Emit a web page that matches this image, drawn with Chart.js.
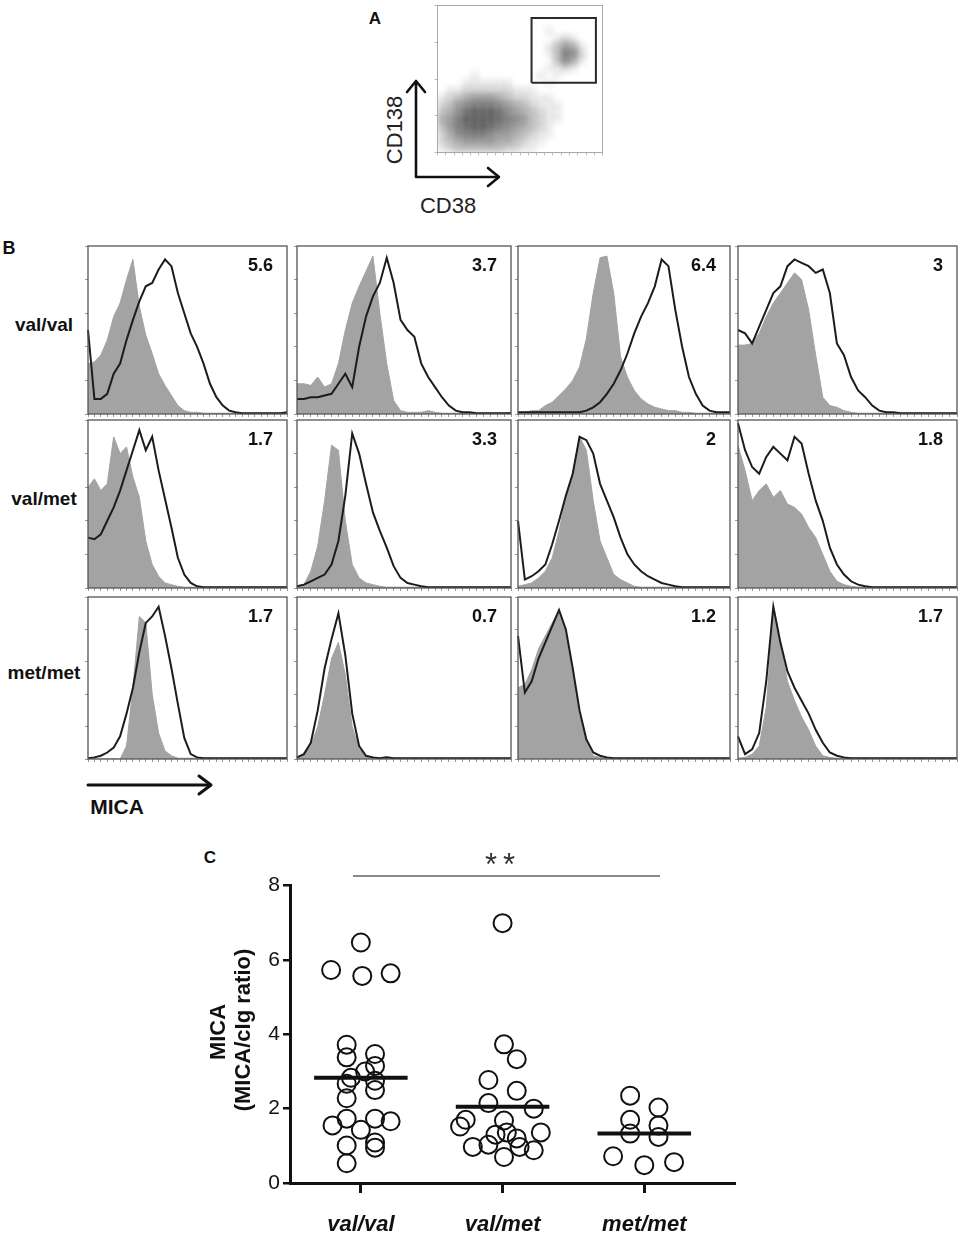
<!DOCTYPE html>
<html>
<head>
<meta charset="utf-8">
<script src="https://cdn.jsdelivr.net/npm/chart.js@4.4.1/dist/chart.umd.min.js"></script>
<style>
body { margin: 0; background: #fff; }
#page { position: relative; width: 965px; height: 1239px; overflow: hidden; font-family: 'Liberation Sans', Arial, sans-serif; color: #111; }
#page canvas { position: absolute; }
.lbl { position: absolute; white-space: nowrap; line-height: 1; }
#arrows { position: absolute; left: 0; top: 0; }
</style>
</head>
<body>
<div id="page">
<svg id="arrows" width="965" height="1239">
  <g stroke="#111" stroke-width="2.6" fill="none" stroke-linecap="round" stroke-linejoin="round">
    <polyline points="416,82 416,177 498,177"/>
    <polyline points="407,92 416,81 425,92"/>
    <polyline points="488,168 499,177 488,186"/>
    <line x1="88" y1="785" x2="210" y2="785" stroke-width="3"/>
    <polyline points="199,776 211,785 199,794" stroke-width="3"/>
  </g>
  <line x1="353" y1="876" x2="660" y2="876" stroke="#8a8a8a" stroke-width="2"/>
</svg>
</div>
<script>
Chart.defaults.font.family = "'Liberation Sans', Arial, sans-serif";
Chart.defaults.animation = false;

// ---- panel A: CD38 x CD138 density, rows top to bottom, level 0-9 ----
const densityRows = [
    "00000000000000000000",
    "00000000000000000000",
    "00000000000000000000",
    "00000000000001000000",
    "00000000000000121000",
    "00000000000001354100",
    "00000000000001376200",
    "00000000000000364100",
    "00000000000001121000",
    "00001000000010100000",
    "00011111100001000000",
    "01122222211100000000",
    "12345554322111000000",
    "23567776543211100000",
    "34689998654321100000",
    "45799998765321100000",
    "35789987654321000000",
    "24677765543211000000",
    "23455554432110000000",
    "12333333221100000000"
];
const gateX = [570, 960];
const gateY = [475, 915];

// ---- panel B: histograms, gray = control, black = anti-MICA (% of max) ----
const bins = [0,1,2,3,4,5,6,7,8,9,10,11,12,13,14,15,16,17,18,19,20,21,22,23,24,25,26,27,28,29,30,31];
const rowNames = ['val/val', 'val/met', 'met/met'];
const ratioLabels = ['5.6', '3.7', '6.4', '3', '1.7', '3.3', '2', '1.8', '1.7', '0.7', '1.2', '1.7'];

const ctrlValVal = [
    [30,31,35,44,58,66,80,92,64,47,36,24,17,11,5,2,1,1,0.5,0.5,0.5,0.5,0.5,0.5,0.5,0.5,0.5,0.5,0.5,0.5,0.5,1],
    [18,18,17,22,16,18,30,50,66,76,85,94,60,30,8,2,1,1,1,2,1,0.5,0.5,0.5,0.5,0.5,0.5,0.5,0.5,0.5,0.5,1],
    [1,1,2,2,5,7,11,15,20,28,45,72,93,94,72,34,22,14,9,6,4,3,2,2,1,1,0.5,0.5,0.5,0.5,0.5,0.5],
    [41,41,42,48,58,66,72,78,84,80,62,35,10,5,4,2,1,0.5,0.5,0.5,0.5,0.5,0.5,0.5,0.5,0.5,0.5,0.5,0.5,0.5,0.5,0.5]
];
const micaValVal = [
    [50,9,9,12,24,30,44,56,67,76,78,86,92,88,72,60,48,40,30,18,10,5,2,1,0.5,0.5,0.5,0.5,0.5,0.5,0.5,1],
    [9,9,10,10,11,12,18,24,16,40,58,70,78,93,78,56,50,46,30,22,16,10,5,2,1,1,0.5,0.5,0.5,0.5,0.5,0.5],
    [1,1,1,1,1,1,1,1,1,1,2,4,7,12,18,26,36,48,58,66,76,92,88,62,40,22,12,5,2,1,1,1],
    [50,48,42,52,62,72,76,88,92,90,88,84,86,72,42,35,22,14,10,5,2,1,1,0.5,0.5,0.5,0.5,0.5,0.5,0.5,0.5,0.5]
];
const ctrlValMet = [
    [60,65,58,62,90,80,84,66,54,28,14,7,3,2,1,0.5,0.5,0.5,0.5,0.5,0.5,0.5,0.5,0.5,0.5,0.5,0.5,0.5,0.5,0.5,0.5,0.5],
    [1,2,10,25,52,85,82,40,14,6,3,2,1,0.5,0.5,0.5,0.5,0.5,0.5,0.5,0.5,0.5,0.5,0.5,0.5,0.5,0.5,0.5,0.5,0.5,0.5,0.5],
    [1,2,3,6,10,18,34,54,68,90,82,52,28,18,8,5,3,1,0.5,0.5,0.5,0.5,0.5,0.5,0.5,0.5,0.5,0.5,0.5,0.5,0.5,0.5],
    [85,70,52,58,62,54,58,50,48,44,36,30,20,10,4,2,1,0.5,0.5,0.5,0.5,0.5,0.5,0.5,0.5,0.5,0.5,0.5,0.5,0.5,0.5,0.5]
];
const micaValMet = [
    [30,29,32,40,48,58,70,82,94,82,90,70,53,36,18,8,3,1,0.5,0.5,0.5,0.5,0.5,0.5,0.5,0.5,0.5,0.5,0.5,0.5,0.5,0.5],
    [1,2,4,6,8,14,28,55,92,80,62,45,34,24,13,6,3,2,1,0.5,0.5,0.5,0.5,0.5,0.5,0.5,0.5,0.5,0.5,0.5,0.5,0.5],
    [40,5,7,10,14,26,40,55,68,90,88,80,62,52,42,30,20,14,10,7,5,3,2,1,0.5,0.5,0.5,0.5,0.5,0.5,0.5,0.5],
    [98,82,72,68,78,84,80,76,90,86,68,52,40,24,14,8,4,2,1,0.5,0.5,0.5,0.5,0.5,0.5,0.5,0.5,0.5,0.5,0.5,0.5,0.5]
];
const ctrlMetMet = [
    [0,0,0,0,0,0,8,44,88,84,40,16,5,2,0.5,0.5,0.5,0.5,0.5,0.5,0.5,0.5,0.5,0.5,0.5,0.5,0.5,0.5,0.5,0.5,0.5,0.5],
    [1,3,8,20,40,62,72,52,20,6,2,1,0.5,0.5,0.5,0.5,0.5,0.5,0.5,0.5,0.5,0.5,0.5,0.5,0.5,0.5,0.5,0.5,0.5,0.5,0.5,0.5],
    [44,46,55,68,76,84,92,78,52,28,10,2,1,0.5,0.5,0.5,0.5,0.5,0.5,0.5,0.5,0.5,0.5,0.5,0.5,0.5,0.5,0.5,0.5,0.5,0.5,0.5],
    [0.5,1,3,8,32,90,72,48,36,26,18,8,2,1,0.5,0.5,0.5,0.5,0.5,0.5,0.5,0.5,0.5,0.5,0.5,0.5,0.5,0.5,0.5,0.5,0.5,0.5]
];
const micaMetMet = [
    [0.5,1,2,4,7,14,28,44,66,84,88,94,76,56,34,13,3,1,0.5,0.5,0.5,0.5,0.5,0.5,0.5,0.5,0.5,0.5,0.5,0.5,0.5,0.5],
    [1,3,10,30,56,74,90,64,28,8,2,1,0.5,1,0.5,0.5,0.5,0.5,0.5,0.5,0.5,0.5,0.5,0.5,0.5,0.5,0.5,0.5,0.5,0.5,0.5,0.5],
    [76,41,48,62,72,82,92,80,56,30,12,4,2,1,0.5,0.5,0.5,0.5,0.5,0.5,0.5,0.5,0.5,0.5,0.5,0.5,0.5,0.5,0.5,0.5,0.5,0.5],
    [14,3,6,16,48,94,72,54,44,36,28,18,10,4,2,1,0.5,0.5,0.5,0.5,0.5,0.5,0.5,0.5,0.5,0.5,0.5,0.5,0.5,0.5,0.5,0.5]
];

// ---- panel C: MICA/cIg ratio per patient ----
const genotypes = ['val/val', 'val/met', 'met/met'];
const valValMica = [5.73, 6.47, 5.57, 5.64, 3.72, 3.38, 3.47, 3.15, 3.0, 2.83, 2.67, 2.75, 2.5, 2.28, 1.55, 1.73, 1.43, 1.73, 1.66, 1.01, 1.09, 0.95, 0.53];
const valValJitter = [-0.21, 0, 0.01, 0.21, -0.1, -0.1, 0.1, 0.1, 0.03, -0.07, -0.1, 0.1, 0.1, -0.1, -0.2, -0.1, 0, 0.1, 0.21, -0.1, 0.1, 0.1, -0.1];
const valMetMica = [6.99, 3.73, 3.33, 2.77, 2.48, 2.15, 2.0, 1.70, 1.52, 1.68, 1.30, 1.36, 1.2, 1.36, 0.97, 1.03, 0.97, 0.88, 0.70];
const valMetJitter = [0, 0.01, 0.1, -0.1, 0.1, -0.1, 0.22, -0.26, -0.3, 0.01, -0.05, 0.03, 0.1, 0.27, -0.21, -0.1, 0.12, 0.22, 0.01];
const metMetMica = [2.35, 1.7, 1.33, 2.03, 1.55, 1.24, 0.72, 0.48, 0.56];
const metMetJitter = [-0.1, -0.1, -0.1, 0.1, 0.1, 0.1, -0.22, 0, 0.21];
const groupMeans = [2.83, 2.05, 1.33];

const page = document.getElementById('page');

function makeCanvas(left, top, width, height) {
    const cv = document.createElement('canvas');
    cv.width = width;
    cv.height = height;
    cv.style.left = left + 'px';
    cv.style.top = top + 'px';
    page.appendChild(cv);
    return cv;
}

// text centred on x,y
function addLabel(text, x, y, css, rotate) {
    const d = document.createElement('div');
    d.className = 'lbl';
    d.textContent = text;
    d.style.left = x + 'px';
    d.style.top = y + 'px';
    d.style.transform = 'translate(-50%, -50%)' + (rotate ? ' rotate(-90deg)' : '');
    Object.assign(d.style, css);
    page.appendChild(d);
    return d;
}

// draws the frame round the plot area
const boxPlugin = {
    id: 'box',
    afterDraw(chart, args, opts) {
        const a = chart.chartArea;
        const ctx = chart.ctx;
        ctx.save();
        ctx.strokeStyle = opts.color;
        ctx.lineWidth = opts.width;
        ctx.strokeRect(a.left, a.top, a.right - a.left, a.bottom - a.top);
        ctx.restore();
    }
};

const blurPlugin = {
    id: 'blur',
    beforeDatasetDraw(chart, args) {
        if (args.index === 0) {
            chart.ctx.save();
            chart.ctx.filter = 'blur(2.5px)';
        }
    },
    afterDatasetDraw(chart, args) {
        if (args.index === 0) chart.ctx.restore();
    }
};

function tickAxis(min, max, step, color, size, vertical) {
    return {
        type: 'linear', min: min, max: max,
        ticks: { display: false, stepSize: step },
        grid: { drawOnChartArea: false, tickLength: 3, color: color, tickColor: color },
        border: { display: false },
        afterFit: (s) => { if (vertical) s.width = size; else s.height = size; }
    };
}

// ---------- panel A ----------
function drawDotPlot() {
    const pts = [];
    const colors = [];
    densityRows.forEach((row, r) => {
        for (let c = 0; c < row.length; c++) {
            const level = parseInt(row[c]);
            if (level > 0) {
                pts.push({ x: c * 50 + 25, y: 975 - r * 50 });
                colors.push('rgba(35,35,35,' + (level * 0.068).toFixed(3) + ')');
            }
        }
    });
    const gate = [
        { x: gateX[0], y: gateY[0] }, { x: gateX[1], y: gateY[0] },
        { x: gateX[1], y: gateY[1] }, { x: gateX[0], y: gateY[1] }, { x: gateX[0], y: gateY[0] }
    ];
    const cv = makeCanvas(432, 0, 176, 158);
    new Chart(cv, {
        type: 'scatter',
        data: {
            datasets: [
                { data: pts, pointRadius: 5.5, borderWidth: 0, backgroundColor: colors },
                { data: gate, showLine: true, pointRadius: 0, borderColor: '#2a2a2a', borderWidth: 2 }
            ]
        },
        options: {
            responsive: false,
            layout: { padding: { top: 4, right: 1 } },
            plugins: { legend: { display: false }, tooltip: { enabled: false }, box: { color: '#aaa', width: 1 } },
            scales: {
                x: tickAxis(0, 1000, 50, '#bbb', 4, false),
                y: tickAxis(0, 1000, 250, '#bbb', 4, true)
            }
        },
        plugins: [blurPlugin, boxPlugin]
    });
}

// ---------- panel B ----------
const colLeft = [88, 297, 518, 738];
const colRight = [287, 511, 730, 957];
const rowTop = [246, 420, 597];
const rowHeight = [168, 168, 162];

function drawHist(row, col, ctrl, mica, ratio) {
    const left = colLeft[col];
    const w = colRight[col] - left;
    const top = rowTop[row];
    const h = rowHeight[row];
    const cv = makeCanvas(left - 4, top - 1, w + 5, h + 5);
    new Chart(cv, {
        type: 'line',
        data: {
            labels: bins,
            datasets: [
                { data: mica, borderColor: '#1c1c1c', borderWidth: 2, pointRadius: 0, tension: 0, fill: false, order: 1 },
                { data: ctrl, borderColor: '#a3a3a3', borderWidth: 1, backgroundColor: '#a3a3a3', pointRadius: 0, tension: 0, fill: 'origin', order: 2 }
            ]
        },
        options: {
            responsive: false,
            layout: { padding: { top: 1, right: 1 } },
            plugins: { legend: { display: false }, tooltip: { enabled: false }, box: { color: '#555', width: 1.3 } },
            scales: {
                x: {
                    ticks: { display: false },
                    grid: { drawOnChartArea: false, tickLength: 3, color: '#999', tickColor: '#999' },
                    border: { display: false },
                    afterFit: (s) => { s.height = 4; }
                },
                y: tickAxis(0, 100, 20, '#999', 4, true)
            }
        },
        plugins: [boxPlugin]
    });
    addLabel(ratio, left + w - 14, top + 19, { fontSize: '18px', fontWeight: 'bold', transform: 'translate(-100%, -50%)' });
}

function drawHistograms() {
    const ctrlRows = [ctrlValVal, ctrlValMet, ctrlMetMet];
    const micaRows = [micaValVal, micaValMet, micaMetMet];
    for (let r = 0; r < 3; r++) {
        for (let c = 0; c < 4; c++) {
            drawHist(r, c, ctrlRows[r][c], micaRows[r][c], ratioLabels[r * 4 + c]);
        }
        addLabel(rowNames[r], 44, rowTop[r] + rowHeight[r] / 2 - 6, { fontSize: '19px', fontWeight: 'bold' });
    }
}

// ---------- panel C ----------
function groupPoints(values, jitter, cat) {
    return values.map((v, i) => ({ x: cat + jitter[i], y: v }));
}

function drawScatter() {
    const groups = [
        groupPoints(valValMica, valValJitter, 1),
        groupPoints(valMetMica, valMetJitter, 2),
        groupPoints(metMetMica, metMetJitter, 3)
    ];
    const datasets = groups.map((g) => ({
        data: g, pointRadius: 9, borderWidth: 2, borderColor: '#111', backgroundColor: 'rgba(0,0,0,0)'
    }));
    groupMeans.forEach((m, i) => {
        datasets.push({
            type: 'line',
            data: [{ x: i + 1 - 0.33, y: m }, { x: i + 1 + 0.33, y: m }],
            borderColor: '#111', borderWidth: 4, pointRadius: 0
        });
    });
    const cv = makeCanvas(180, 870, 565, 369);
    new Chart(cv, {
        type: 'scatter',
        data: { datasets: datasets },
        options: {
            responsive: false,
            layout: { padding: { top: 13, right: 7 } },
            plugins: { legend: { display: false }, tooltip: { enabled: false } },
            scales: {
                x: {
                    type: 'linear', min: 0.5, max: 3.633,
                    afterBuildTicks: (s) => { s.ticks = genotypes.map((g, i) => ({ value: i + 1 })); },
                    ticks: {
                        callback: (v) => genotypes[v - 1],
                        font: { size: 22, weight: 'bold', style: 'italic' },
                        color: '#111', padding: 19, maxRotation: 0
                    },
                    grid: { drawOnChartArea: false, tickLength: 10, lineWidth: 3, color: '#111', tickColor: '#111' },
                    border: { width: 3, color: '#111' },
                    afterFit: (s) => { s.height = 56; }
                },
                y: {
                    min: 0, max: 8,
                    ticks: { stepSize: 2, font: { size: 21 }, color: '#111', padding: 3 },
                    grid: { drawOnChartArea: false, tickLength: 7, lineWidth: 2.5, color: '#111', tickColor: '#111' },
                    border: { width: 3, color: '#111' },
                    afterFit: (s) => { s.width = 110; }
                }
            }
        }
    });
}

drawDotPlot();
drawHistograms();
drawScatter();

// static labels
addLabel('A', 375, 18, { fontSize: '17px', fontWeight: 'bold' });
addLabel('CD138', 395, 130, { fontSize: '22px', color: '#222' }, true);
addLabel('CD38', 448, 206, { fontSize: '22px', color: '#222' });
addLabel('B', 9, 248, { fontSize: '18px', fontWeight: 'bold' });
addLabel('MICA', 117, 806, { fontSize: '21px', fontWeight: 'bold' });
addLabel('C', 210, 857, { fontSize: '17px', fontWeight: 'bold' });
addLabel('**', 503, 864, { fontSize: '31px', letterSpacing: '6px', color: '#333' });
addLabel('MICA', 218, 1032, { fontSize: '22px', fontWeight: 'bold' }, true);
addLabel('(MICA/cIg ratio)', 243, 1030, { fontSize: '22px', fontWeight: 'bold' }, true);
</script>
</body>
</html>
